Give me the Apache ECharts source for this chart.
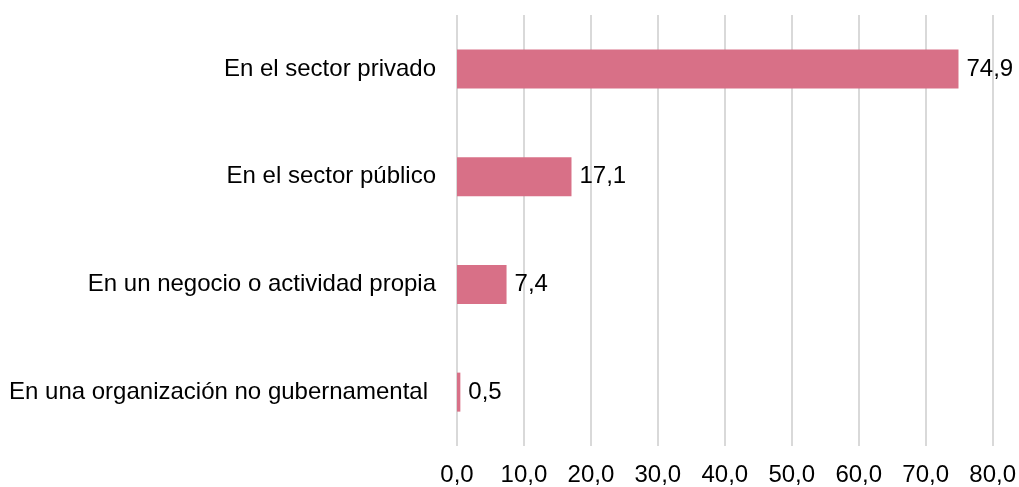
<!DOCTYPE html>
<html><head><meta charset="utf-8">
<script src="https://cdn.jsdelivr.net/npm/echarts@6/dist/echarts.min.js"></script>
<style>html,body{margin:0;padding:0;background:#fff}#c{width:1019px;height:487px}</style>
</head><body><div id="c"></div>
<script>
const categories = ["En el sector privado","En el sector público","En un negocio o actividad propia","En una organización no gubernamental"];
const values = [74.9, 17.1, 7.4, 0.5];
const chart = echarts.init(document.getElementById('c'));
const fmt = v => v.toFixed(1).replace('.', ',');
chart.setOption({
  animation:false,
  grid:{left:457,right:26,top:15,bottom:40,containLabel:false},
  xAxis:{type:'value',min:0,max:80,interval:10,
    axisLine:{show:false},axisTick:{show:false},
    splitLine:{lineStyle:{color:'#d9d9d9',width:2}},
    axisLabel:{formatter:v=>fmt(v),color:'#000',fontFamily:'Liberation Sans',fontSize:24,margin:17}},
  yAxis:{type:'category',data:categories,inverse:true,
    axisLine:{show:false},axisTick:{show:false},
    axisLabel:{color:'#000',fontFamily:'Liberation Sans',fontSize:24,margin:21,
      formatter:(v,i)=> i===3 ? '{l|'+v+'}' : v,
      rich:{l:{fontFamily:'Liberation Sans',fontSize:24,color:'#000',padding:[0,8,0,0]}}}},
  series:[{type:'bar',data:values,barWidth:39,itemStyle:{color:'#d87087'},
    label:{show:true,position:'right',distance:8,formatter:p=>fmt(p.value),color:'#000',fontFamily:'Liberation Sans',fontSize:24}}]
});
</script></body></html>
